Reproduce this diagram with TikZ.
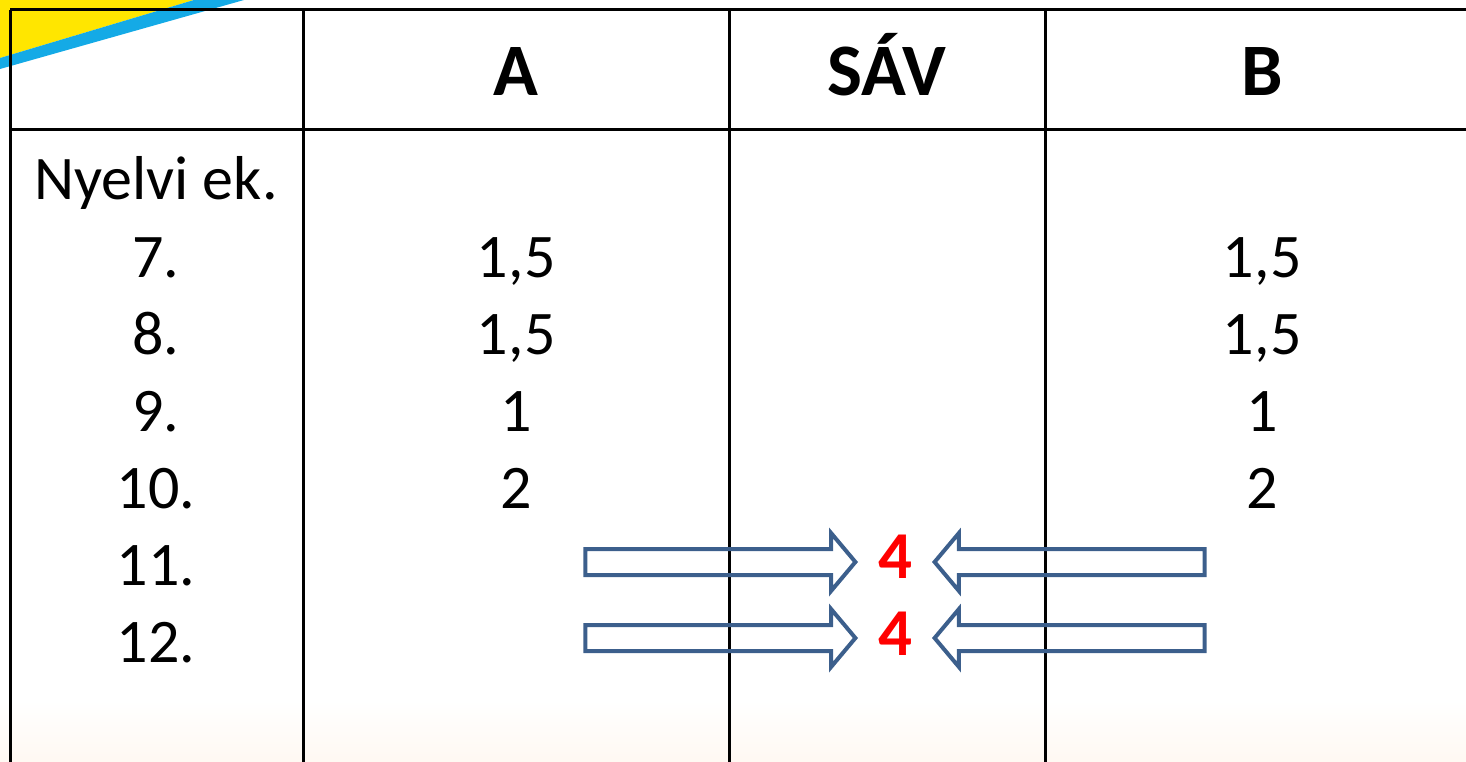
\documentclass[tikz,border=0pt]{standalone}
\usepackage{fontspec}
\setmainfont{Carlito}
\usepackage{xcolor}
\usetikzlibrary{shapes.arrows}
\definecolor{arrowblue}{RGB}{60,95,140}
\definecolor{swoosh}{RGB}{255,230,0}
\definecolor{stripe}{RGB}{20,170,230}

\begin{document}
\begin{tikzpicture}[x=1pt, y=-1pt,
		grid/.style = {line width=3pt, black},
		head/.style = {anchor=base, font=\bfseries\fontsize{74}{80}\selectfont},
		cell/.style = {anchor=base, font=\fontsize{62}{70}\selectfont},
		sum/.style = {anchor=base, text=red, font=\bfseries\fontsize{67}{70}\selectfont},
		flow/.style = {single arrow, draw=arrowblue, line width=4pt,
			minimum height=270pt, inner xsep=0pt, inner ysep=11pt,
			single arrow head extend=16pt, single arrow tip angle=100, anchor=tip}]
		\useasboundingbox (0,0) rectangle (1466,762);
		% background corner
		\fill[swoosh] (0,0) -- (194,0) -- (0,58) -- cycle;
		\fill[stripe] (194,0) -- (244,0) -- (0,69) -- (0,58) -- cycle;
		\fill[bottom color=orange!5, top color=white] (0,700) rectangle (1466,762);
	% table lines
		\draw[grid] (10,10) -- (1466,10);
		\draw[grid] (10,130) -- (1466,130);
		\foreach \x in {10, 303, 729, 1045}
			\draw[grid] (\x,10) -- (\x,762);
	% header
		\node [head] (hA) at (516,96) {A};
		\node [head] (hS) at (887,96) {SÁV};
		\node [head] (hB) at (1262,96) {B};
	% rows
		\node [cell] (r0) at (156,200) {Nyelvi ek.};
		\foreach \n/\a [count=\i] in {7./1\kern.02em{,}5, 8./1\kern.02em{,}5, 9./1, 10./2} {
			\node [cell] (r\n) at (156,200+77*\i) {\n};
			\node [cell] (a\i) at (516,200+77*\i) {\a};
			\node [cell] (b\i) at (1262,200+77*\i) {\a};
		}
		\node [cell] (r11) at (156,585) {11.};
		\node [cell] (r12) at (156,662) {12.};
	% sums
		\node [sum] (s11) at (895,578) {4};
		\node [sum] (s12) at (895,655) {4};
		\node [flow] (fa11) at (858,562) {};
		\node [flow] (fa12) at (858,638) {};
		\node [flow, shape border rotate=180] (fb11) at (932,562) {};
		\node [flow, shape border rotate=180] (fb12) at (932,638) {};
\end{tikzpicture}
\end{document}
